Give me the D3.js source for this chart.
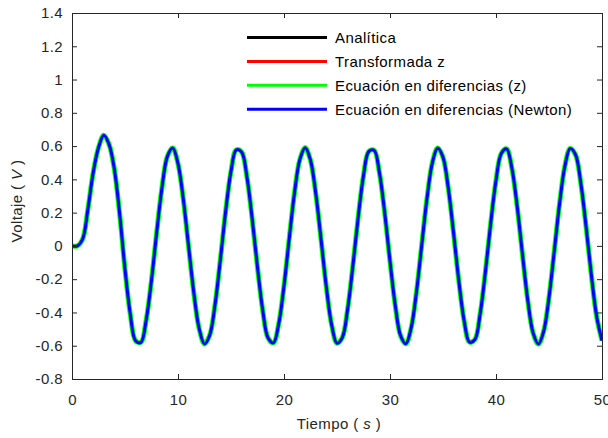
<!DOCTYPE html>
<html><head><meta charset="utf-8">
<script src="https://cdn.jsdelivr.net/npm/d3@7"></script>
<style>body{margin:0;background:#fff}text{font-family:"Liberation Sans",Arial,sans-serif}</style>
</head><body><svg id="c" width="608" height="438"></svg>
<script>
const seriesNames=["Analítica","Transformada z","Ecuación en diferencias (z)","Ecuación en diferencias (Newton)"];
const seriesColors=["#000000","#ff0000","#00ff00","#0000ff"];
const xTicks=[0,10,20,30,40,50];
const yTicks=[-0.8,-0.6,-0.4,-0.2,0,0.2,0.4,0.6,0.8,1,1.2,1.4];
const time=[0,0.5,1,1.5,2,2.5,3,3.5,4,4.5,5,5.5,6,6.5,7,7.5,8,8.5,9,9.5,10,10.5,11,11.5,12,12.5,13,13.5,14,14.5,15,15.5,16,16.5,17,17.5,18,18.5,19,19.5,20,20.5,21,21.5,22,22.5,23,23.5,24,24.5,25,25.5,26,26.5,27,27.5,28,28.5,29,29.5,30,30.5,31,31.5,32,32.5,33,33.5,34,34.5,35,35.5,36,36.5,37,37.5,38,38.5,39,39.5,40,40.5,41,41.5,42,42.5,43,43.5,44,44.5,45,45.5,46,46.5,47,47.5,48,48.5,49,49.5,50];
const voltage=[0,0.00,0.04,0.22,0.44,0.59,0.665,0.61,0.46,0.19,-0.14,-0.41,-0.57,-0.58,-0.445,-0.206,0.086,0.355,0.538,0.588,0.495,0.281,-0.003,-0.285,-0.498,-0.589,-0.535,-0.351,-0.081,0.209,0.448,0.577,0.565,0.416,0.162,-0.129,-0.390,-0.554,-0.583,-0.470,-0.241,0.047,0.323,0.520,0.590,0.515,0.314,0.037,-0.250,-0.476,-0.585,-0.551,-0.382,-0.119,0.172,0.422,0.568,0.575,0.441,0.199,-0.091,-0.359,-0.540,-0.588,-0.492,-0.276,0.008,0.290,0.501,0.589,0.533,0.347,0.076,-0.214,-0.452,-0.578,-0.564,-0.411,-0.157,0.135,0.393,0.556,0.583,0.467,0.236,-0.052,-0.328,-0.523,-0.590,-0.513,-0.310,-0.031,0.255,0.479,0.586,0.549,0.378,0.115,-0.177,-0.426,-0.569];
const widths=[3,3,5,3];

const svg=d3.select("#c");
const L=72,R=602,T=13,B=379;
const x=d3.scaleLinear().domain([0,50]).range([L,R]);
const y=d3.scaleLinear().domain([-0.8,1.4]).range([B,T]);
const pts=time.map((t,i)=>[t,voltage[i]]);
const line=d3.line().x(d=>x(d[0])).y(d=>y(d[1])).curve(d3.curveCatmullRom);
const plot=svg.append("g");
plot.append("defs").append("clipPath").attr("id","cp").append("rect").attr("x",L).attr("y",T).attr("width",R-L).attr("height",B-T);
seriesNames.forEach((n,i)=>{
  plot.append("path").attr("d",line(pts)).attr("fill","none").attr("stroke",seriesColors[i]).attr("stroke-width",widths[i]).attr("stroke-linejoin","round").attr("clip-path","url(#cp)");
});
// axes
const ax=svg.append("g");
const tcol="#262626";
const fmt=d=>String(+d.toFixed(1));
ax.append("g").attr("transform",`translate(0,${B})`).call(d3.axisBottom(x).tickValues(xTicks).tickSize(-5).tickPadding(15).tickFormat(fmt));
ax.append("g").attr("transform",`translate(0,${T})`).call(d3.axisTop(x).tickValues(xTicks).tickSize(-5).tickFormat(""));
ax.append("g").attr("transform",`translate(${L},0)`).call(d3.axisLeft(y).tickValues(yTicks).tickSize(-5).tickPadding(9).tickFormat(fmt));
ax.append("g").attr("transform",`translate(${R},0)`).call(d3.axisRight(y).tickValues(yTicks).tickSize(-5).tickFormat(""));
ax.selectAll(".domain").attr("stroke",tcol);
ax.selectAll(".tick line").attr("stroke",tcol);
ax.selectAll("text").attr("fill",tcol).style("font-size","15px").style("letter-spacing","0.4px").style("font-family","'Liberation Sans',Arial,sans-serif");
// axis labels
const xl=svg.append("text").attr("x",339).attr("y",429).attr("text-anchor","middle").attr("fill",tcol).style("font-size","15px").style("letter-spacing","0.4px");
xl.append("tspan").text("Tiempo ( ");xl.append("tspan").attr("font-style","italic").text("s");xl.append("tspan").text(" )");
const yl=svg.append("text").attr("transform","translate(22,201) rotate(-90)").attr("text-anchor","middle").attr("fill",tcol).style("font-size","15px").style("letter-spacing","0.4px");
yl.append("tspan").text("Voltaje ( ");yl.append("tspan").attr("font-style","italic").text("V");yl.append("tspan").text(" )");
// legend
const lg=svg.append("g");
seriesNames.forEach((n,i)=>{
  const yy=37.5+i*23.9;
  lg.append("line").attr("x1",247).attr("x2",327).attr("y1",yy).attr("y2",yy).attr("stroke",seriesColors[i]).attr("stroke-width",3);
  lg.append("text").attr("x",335).attr("y",yy+5.5).attr("fill","#000").style("font-size","15px").style("letter-spacing","0.4px").text(n);
});
</script></body></html>
